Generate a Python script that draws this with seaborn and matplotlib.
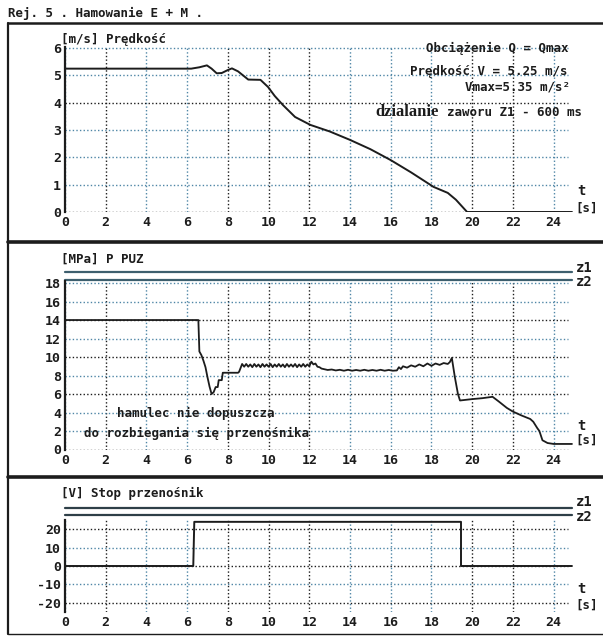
import numpy as np
import pandas as pd
import matplotlib
matplotlib.use("Agg")
import matplotlib.pyplot as plt
from matplotlib.lines import Line2D
from matplotlib.ticker import MultipleLocator
import seaborn as sns

# data
t_v = [0, 0, 6.2, 6.6, 6.97, 7.2, 7.45, 7.7, 8.0, 8.2, 8.5, 9.0, 9.6, 9.97, 10.3,
       10.7, 11.3, 12.05, 13.0, 14.0, 15.0, 16.0, 17.0, 18.1, 18.8, 19.2, 19.75, 24.9]
v = [0, 5.25, 5.25, 5.3, 5.37, 5.25, 5.08, 5.09, 5.2, 5.26, 5.15, 4.85, 4.84, 4.58, 4.25,
     3.92, 3.48, 3.19, 2.95, 2.64, 2.3, 1.9, 1.45, 0.92, 0.7, 0.45, 0.0, 0.0]

t_p = [0, 0, 6.55, 6.6, 6.7, 6.8, 6.9, 7.0, 7.1, 7.2, 7.3, 7.4, 7.5, 7.55, 7.7, 7.75, 8.5, 8.55,
       8.7, 8.8, 8.9, 9.0, 9.1, 9.2, 9.3, 9.4, 9.5, 9.6, 9.7, 9.8, 9.9, 10.0, 10.1, 10.2, 10.3,
       10.4, 10.5, 10.6, 10.7, 10.8, 10.9, 11.0, 11.1, 11.2, 11.3, 11.4, 11.5, 11.6, 11.7, 11.8,
       11.9, 12.0, 12.1, 12.2, 12.3, 12.4, 12.5, 12.6, 12.7, 12.9, 13.1, 13.3, 13.5, 13.7, 13.9,
       14.1, 14.3, 14.5, 14.7, 14.9, 15.1, 15.3, 15.5, 15.7, 15.9, 16.1, 16.3, 16.4, 16.5, 16.6,
       16.8, 17.0, 17.2, 17.4, 17.6, 17.8, 18.0, 18.2, 18.4, 18.6, 18.8, 18.9, 19.0, 19.15, 19.3,
       19.4, 20.0, 20.5, 21.0, 21.3, 21.7, 22.0, 22.4, 22.85, 23.0, 23.2, 23.3, 23.45, 23.7,
       24.0, 24.9]
p = [0, 14.0, 14.0, 10.6, 10.2, 9.6, 8.9, 7.8, 6.8, 6.0, 6.2, 6.75, 6.75, 7.5, 7.5, 8.3, 8.3, 8.4,
     9.25, 8.95, 9.25, 8.95, 9.2, 8.9, 9.25, 8.95, 9.2, 8.9, 9.25, 8.95, 9.2, 8.95, 9.25, 8.9, 9.2,
     8.95, 9.25, 8.95, 9.2, 8.9, 9.25, 8.95, 9.2, 8.95, 9.25, 8.9, 9.2, 8.95, 9.25, 8.95, 9.2,
     9.0, 9.5, 9.2, 9.3, 8.95, 8.9, 8.75, 8.7, 8.6, 8.65, 8.55, 8.62, 8.52, 8.62, 8.52, 8.6,
     8.52, 8.62, 8.52, 8.6, 8.52, 8.62, 8.52, 8.6, 8.52, 8.55, 8.9, 8.7, 9.0, 8.85, 9.1, 8.95,
     9.2, 9.0, 9.3, 9.05, 9.3, 9.15, 9.35, 9.25, 9.45, 9.9, 7.8, 6.0, 5.3, 5.45, 5.55, 5.7,
     5.2, 4.5, 4.1, 3.7, 3.3, 3.0, 2.3, 2.0, 1.0, 0.7, 0.6, 0.6]

t_s = [0, 6.3, 6.35, 19.45, 19.45, 24.9]
s = [0, 0, 24, 24, 0, 0]

z_p = [19.2, 18.35]   # z1, z2 levels on the pressure panel
z_s = [31.5, 27.7]    # z1, z2 levels on the stop panel

x_ticks = list(range(0, 25, 2))

sns.set_style("white")
plt.rcParams['font.family'] = ['DejaVu Sans Mono', 'DejaVu Sans']
plt.rcParams['font.weight'] = 'bold'
plt.rcParams['font.size'] = 9
plt.rcParams['axes.unicode_minus'] = False

W, H = 603, 637
fig = plt.figure(figsize=(W / 100, H / 100), dpi=100)
fig.patch.set_facecolor('white')


def fx(px):
    return px / W


def fy(py):
    return 1 - py / H


def txt(x, y, s, **kw):
    kw.setdefault('va', 'center')
    kw.setdefault('color', '#1c1c1c')
    fig.text(fx(x), fy(y), s, **kw)


ink = '#1c1c1c'
blue = '#4f86a6'
dots = (0, (1, 1.6))
dark_x = [2, 8, 10, 12, 20, 22]


def style_axis(ax, ylim, yticks, yminor, dark_y):
    ax.set_xlim(0, 25)
    ax.set_ylim(*ylim)
    ax.set_xticks(x_ticks)
    ax.set_yticks(yticks)
    ax.xaxis.set_minor_locator(MultipleLocator(0.5))
    ax.yaxis.set_minor_locator(MultipleLocator(yminor))
    ax.grid(False)
    for xt in x_ticks:
        ax.axvline(xt, color=ink if xt in dark_x else blue, linestyle=dots,
                   linewidth=1.0, zorder=0)
    for yt in yticks:
        ax.plot([0, 24.7], [yt, yt], color=ink if yt in dark_y else blue,
                linestyle=dots, linewidth=1.0, zorder=0)
    for sp in ['top', 'right', 'bottom']:
        ax.spines[sp].set_visible(False)
    ax.spines['left'].set_color(ink)
    ax.spines['left'].set_linewidth(1.6)
    ax.tick_params(axis='x', which='major', direction='in', length=4, width=1,
                   color=ink, pad=3, labelsize=9.5, labelcolor=ink)
    ax.tick_params(axis='x', which='minor', direction='in', length=3, width=1, color=ink)
    ax.tick_params(axis='y', which='major', direction='inout', length=6, width=1,
                   color=ink, pad=0, labelsize=9.5, labelcolor=ink)
    ax.tick_params(axis='y', which='minor', direction='out', length=2, width=0.8, color=ink)
    ax.set_xlabel('')
    ax.set_ylabel('')
    ax.patch.set_alpha(0)


# panel 1: velocity
ax1 = fig.add_axes([fx(65), fy(212), fx(574) - fx(65), (212 - 46.8) / H])
sns.lineplot(x=t_v, y=v, ax=ax1, sort=False, estimator=None, color=ink, linewidth=1.4)
style_axis(ax1, (0, 6.05), list(range(0, 7)), 0.2, [0, 4])

# panel 2: pressure
ax2 = fig.add_axes([fx(65), fy(449.5), fx(574) - fx(65), (449.5 - 281.2) / H])
sns.lineplot(x=t_p, y=p, ax=ax2, sort=False, estimator=None, color=ink, linewidth=1.3)
for zv in z_p:
    ax2.plot([0, 24.9], [zv, zv], color='#3d5f6e', linewidth=1.6, clip_on=False)
style_axis(ax2, (0, 18.2), list(range(0, 19, 2)), 0.5, [0, 6, 10, 14])

# panel 3: stop signal
ax3 = fig.add_axes([fx(65), fy(612), fx(574) - fx(65), (612 - 520) / H])
sns.lineplot(x=t_s, y=s, ax=ax3, sort=False, estimator=None, color=ink, linewidth=1.4)
for zv in z_s:
    ax3.plot([0, 24.9], [zv, zv], color='#2e3f48', linewidth=1.6, clip_on=False)
style_axis(ax3, (-25, 25), [-20, -10, 0, 10, 20], 2, [20, 0, -20])

# frame lines
fig.add_artist(Line2D([fx(8), fx(8)], [fy(23), fy(634)], color=ink, linewidth=1.6))
fig.add_artist(Line2D([fx(8), fx(603)], [fy(23), fy(23)], color=ink, linewidth=1.8))
for yy in [242, 477]:
    fig.add_artist(Line2D([fx(8), fx(603)], [fy(yy), fy(yy)], color=ink, linewidth=2.6))
fig.add_artist(Line2D([fx(8), fx(603)], [fy(634), fy(634)], color=ink, linewidth=1.0))

# texts
txt(8, 13, "Rej. 5 . Hamowanie E + M .")
txt(61, 39, "[m/s] Prędkość")
txt(61, 259, "[MPa] P PUZ")
txt(61, 493, "[V] Stop przenośnik")

txt(568, 48, "Obciążenie Q = Qmax", ha='right')
txt(568, 71, "Prędkość V = 5.25 m/s", ha='right')
txt(570, 87, "Vmax=5.35 m/s²", ha='right')
txt(375, 112, "dzialanie", ha='left', family=['Liberation Serif'], fontsize=12)
txt(447, 112, "zaworu Z1 - 600 ms", ha='left')

txt(196, 413, "hamulec nie dopuszcza", ha='center')
txt(196, 433, "do rozbiegania się przenośnika", ha='center')

for ty, sy in [(191, 208), (426, 440), (589, 605)]:
    txt(581, ty, "t", ha='center', fontsize=10)
    txt(587, sy, "[s]", ha='center')

for y1, y2 in [(268, 282), (502, 517)]:
    txt(576, y1, "z1", ha='left', fontsize=10)
    txt(576, y2, "z2", ha='left', fontsize=10)

fig.savefig("out.png", dpi=100, facecolor='white')
